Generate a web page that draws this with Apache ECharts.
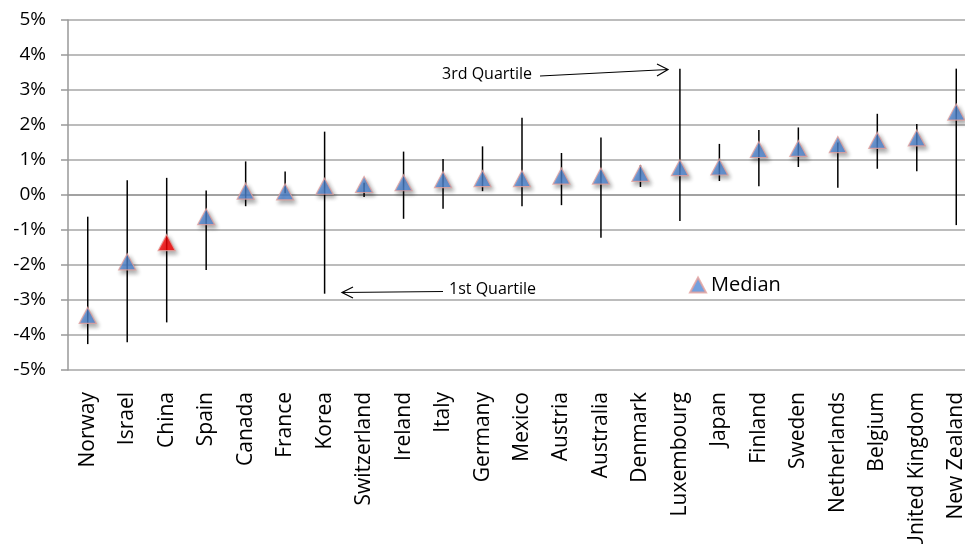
<!DOCTYPE html>
<html>
<head>
<meta charset="utf-8">
<script src="https://cdn.jsdelivr.net/npm/echarts@6/dist/echarts.min.js"></script>
<style>html,body{margin:0;padding:0;background:#fff}#c{width:965px;height:544px}</style>
</head>
<body>
<div id="c"></div>
<script>
var countries = ['Norway','Israel','China','Spain','Canada','France','Korea','Switzerland','Ireland','Italy','Germany','Mexico','Austria','Australia','Denmark','Luxembourg','Japan','Finland','Sweden','Netherlands','Belgium','United Kingdom','New Zealand'];
var median = [-3.44,-1.91,-1.36,-0.62,0.11,0.09,0.25,0.30,0.35,0.44,0.47,0.47,0.54,0.54,0.62,0.78,0.80,1.30,1.33,1.44,1.56,1.63,2.37];
var q1 = [-4.26,-4.21,-3.64,-2.14,-0.32,0.05,-2.82,-0.06,-0.68,-0.39,0.11,-0.32,-0.29,-1.22,0.23,-0.74,0.40,0.25,0.80,0.21,0.75,0.68,-0.86];
var q3 = [-0.62,0.42,0.49,0.13,0.96,0.67,1.81,0.35,1.24,1.03,1.39,2.21,1.20,1.64,0.85,3.61,1.46,1.86,1.93,1.50,2.32,2.03,3.61];
var yTicks = [-5,-4,-3,-2,-1,0,1,2,3,4,5];
var highlight = 'China';

var FONT = '"Open Sans", sans-serif';
var chart = echarts.init(document.getElementById('c'), null, {renderer: 'canvas'});

var whiskerData = countries.map(function (c, i) { return [i, q1[i], q3[i]]; });
var medianData = countries.map(function (c, i) {
  var d = {value: [i, median[i]]};
  if (c === highlight) d.itemStyle = {color: '#ff0000'};
  return d;
});

var option = {
  animation: false,
  backgroundColor: '#ffffff',
  grid: {left: 68, width: 908, top: 20, bottom: 174, containLabel: false, outerBoundsMode: 'none'},
  legend: {
    data: ['Median'],
    left: 684, top: 270,
    itemWidth: 16, itemHeight: 15, itemGap: 5,
    textStyle: {fontFamily: FONT, fontSize: 20, color: '#000'},
    icon: 'triangle'
  },
  xAxis: {
    type: 'category',
    data: countries,
    axisLine: {lineStyle: {color: '#999999', width: 1.5}},
    axisTick: {show: false},
    axisLabel: {rotate: 90, margin: 22, interval: 0, fontFamily: FONT, fontSize: 21, color: '#000'},
    splitLine: {show: false}
  },
  yAxis: {
    type: 'value',
    min: yTicks[0], max: yTicks[yTicks.length - 1], interval: 1,
    axisLine: {show: true, lineStyle: {color: '#999999', width: 1.5}},
    axisTick: {show: true, length: 7, lineStyle: {color: '#999999', width: 1.5}},
    axisLabel: {margin: 22, fontFamily: FONT, fontSize: 19, color: '#000', formatter: function (v) { return v + '%'; }},
    splitLine: {lineStyle: {color: '#a6a6a6', width: 1.5}}
  },
  series: [
    {
      type: 'custom',
      name: 'Quartiles',
      z: 2,
      renderItem: function (params, api) {
        var lo = api.coord([api.value(0), api.value(1)]);
        var hi = api.coord([api.value(0), api.value(2)]);
        return {
          type: 'line',
          shape: {x1: lo[0], y1: lo[1], x2: hi[0], y2: hi[1]},
          style: {stroke: '#000', lineWidth: 1.5}
        };
      },
      encode: {x: 0, y: [1, 2]},
      data: whiskerData
    },
    {
      type: 'scatter',
      name: 'Median',
      z: 5,
      symbol: 'triangle',
      symbolSize: [17, 16],
      itemStyle: {
        color: '#5088D6',
        borderColor: '#E3A09C',
        borderWidth: 1.2,
        shadowBlur: 4,
        shadowOffsetX: 2,
        shadowOffsetY: 3,
        shadowColor: 'rgba(0,0,0,0.4)'
      },
      data: medianData
    }
  ],
  graphic: [
    {type: 'text', left: 442, top: 66, style: {text: '3rd Quartile', font: '16px ' + FONT, fill: '#000'}},
    {type: 'line', shape: {x1: 540, y1: 76, x2: 668, y2: 69.5}, style: {stroke: '#000', lineWidth: 1.2}},
    {type: 'polyline', shape: {points: [[657, 64], [668, 69.5], [657, 76]]}, style: {stroke: '#000', lineWidth: 1.2, fill: null}},
    {type: 'text', left: 449, top: 281, style: {text: '1st Quartile', font: '16px ' + FONT, fill: '#000'}},
    {type: 'line', shape: {x1: 443, y1: 291.5, x2: 342, y2: 292.5}, style: {stroke: '#000', lineWidth: 1.2}},
    {type: 'polyline', shape: {points: [[353, 287], [342, 292.5], [353, 298]]}, style: {stroke: '#000', lineWidth: 1.2, fill: null}}
  ]
};
chart.setOption(option);
</script>
</body>
</html>
